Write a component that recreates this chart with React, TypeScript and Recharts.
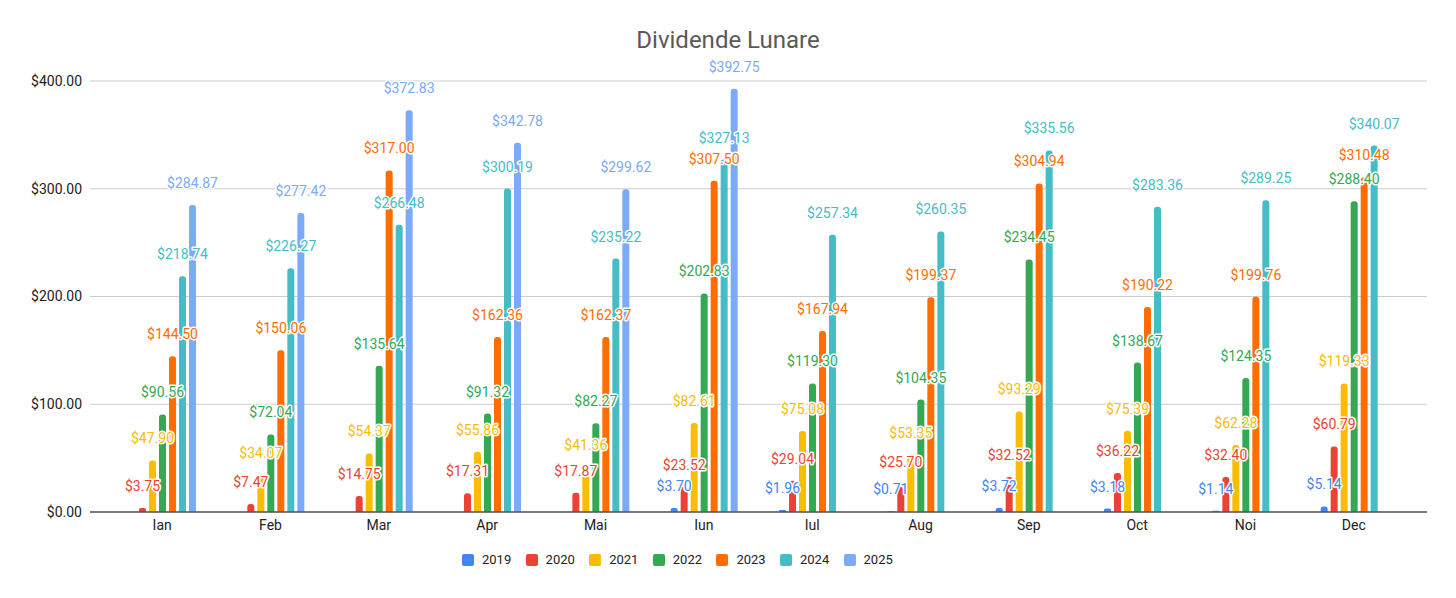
import { BarChart, Bar, XAxis, YAxis, CartesianGrid, Legend, LabelList } from 'recharts'

const months = ['Ian', 'Feb', 'Mar', 'Apr', 'Mai', 'Iun', 'Iul', 'Aug', 'Sep', 'Oct', 'Noi', 'Dec']

const y2019 = [null, null, null, null, null, 3.7, 1.96, 0.71, 3.72, 3.18, 1.14, 5.14]
const y2020 = [3.75, 7.47, 14.75, 17.31, 17.87, 23.52, 29.04, 25.7, 32.52, 36.22, 32.4, 60.79]
const y2021 = [47.9, 34.07, 54.37, 55.86, 41.36, 82.61, 75.08, 53.35, 93.29, 75.39, 62.28, 119.33]
const y2022 = [90.56, 72.04, 135.64, 91.32, 82.27, 202.83, 119.3, 104.35, 234.45, 138.67, 124.35, 288.4]
const y2023 = [144.5, 150.06, 317.0, 162.36, 162.37, 307.5, 167.94, 199.37, 304.94, 190.22, 199.76, 310.48]
const y2024 = [218.74, 226.27, 266.48, 300.19, 235.22, 327.13, 257.34, 260.35, 335.56, 283.36, 289.25, 340.07]
const y2025 = [284.87, 277.42, 372.83, 342.78, 299.62, 392.75, null, null, null, null, null, null]

const yTicks = [0, 100, 200, 300, 400]

const series = [
  { key: '2019', values: y2019, color: '#4285F4' },
  { key: '2020', values: y2020, color: '#EA4335' },
  { key: '2021', values: y2021, color: '#FBBC04' },
  { key: '2022', values: y2022, color: '#34A853' },
  { key: '2023', values: y2023, color: '#FF6D01' },
  { key: '2024', values: y2024, color: '#46BDC6' },
  { key: '2025', values: y2025, color: '#7BAAF7' },
]

const data = months.map((name, i) => {
  const row: Record<string, any> = { name }
  series.forEach(s => { row[s.key] = s.values[i] })
  return row
})

const font = 'Roboto, Arial, sans-serif'
const money = (v: number) => `$${v.toFixed(2)}`

const valueLabel = (color: string) => (props: any) => {
  const { x, y, width, value } = props
  if (value == null) return null
  return (
    <text
      x={Number(x) + Number(width) / 2}
      y={Number(y) - 17}
      textAnchor="middle"
      fill={color}
      stroke="#fff"
      strokeWidth={3}
      strokeLinejoin="round"
      paintOrder="stroke"
      fontSize={14}
      fontFamily={font}
    >
      {money(Number(value))}
    </text>
  )
}

function LegendRow() {
  return (
    <div style={{ display: 'flex', paddingLeft: 462, fontFamily: font, fontSize: 13, color: '#222' }}>
      {series.map(s => (
        <div key={s.key} style={{ display: 'flex', alignItems: 'center', width: 63.6 }}>
          <span style={{ width: 12, height: 12, background: s.color, borderRadius: 2, marginRight: 8 }} />
          <span>{s.key}</span>
        </div>
      ))}
    </div>
  )
}

export default function App() {
  return (
    <div style={{ position: 'absolute', left: 0, top: 0, width: 1456, height: 598, background: '#fff' }}>
      <div
        style={{
          position: 'absolute', left: 0, top: 26, width: 1456, textAlign: 'center',
          fontFamily: font, fontSize: 24, color: '#595959',
        }}
      >
        Dividende Lunare
      </div>
      <BarChart
        width={1456}
        height={598}
        data={data}
        margin={{ top: 81, right: 29, bottom: 56, left: 0 }}
        barSize={7}
        barGap={3}
      >
        <CartesianGrid vertical={false} stroke="#cccccc" />
        <XAxis
          dataKey="name"
          padding={{ left: 18, right: 19 }}
          tickLine={false}
          axisLine={{ stroke: '#555', strokeWidth: 1.5 }}
          tick={{ fontSize: 14, fill: '#222', fontFamily: font }}
          height={30}
        />
        <YAxis
          width={90}
          domain={[0, 400]}
          ticks={yTicks}
          tickFormatter={money}
          axisLine={false}
          tickLine={false}
          tick={{ fontSize: 14, fill: '#222', fontFamily: font }}
        />
        <Legend
          layout="horizontal"
          verticalAlign="middle"
          align="center"
          wrapperStyle={{ top: 552, left: 0 }}
          content={() => <LegendRow />}
        />
        {series.map(s => (
          <Bar key={s.key} dataKey={s.key} fill={s.color} radius={[3, 3, 0, 0]} isAnimationActive={false}>
            <LabelList dataKey={s.key} content={valueLabel(s.color)} />
          </Bar>
        ))}
      </BarChart>
    </div>
  )
}
